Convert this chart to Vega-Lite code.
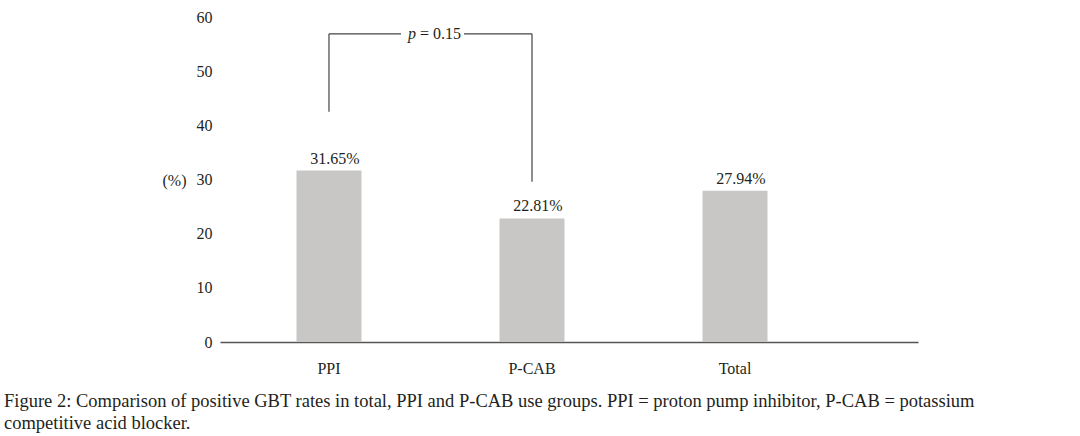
{
  "$schema": "https://vega.github.io/schema/vega-lite/v6.json",
  "autosize": {"type": "none"},
  "width": 698,
  "height": 325,
  "padding": {"left": 220, "top": 17, "right": 162, "bottom": 94},
  "background": "white",
  "config": {
    "view": {"stroke": null},
    "font": "Liberation Serif",
    "axis": {"labelFont": "Liberation Serif", "titleFont": "Liberation Serif", "labelColor": "#231f20", "titleColor": "#231f20", "grid": false, "ticks": false}
  },
  "title": {
    "text": ["Figure 2: Comparison of positive GBT rates in total, PPI and P-CAB use groups. PPI = proton pump inhibitor, P-CAB = potassium", "competitive acid blocker."],
    "orient": "bottom",
    "anchor": "start",
    "frame": "group",
    "dx": -216,
    "offset": 16,
    "font": "Liberation Serif",
    "fontSize": 18.5,
    "fontWeight": "normal",
    "color": "#231f20",
    "lineHeight": 22
  },
  "datasets": {
    "rates": [
      {"group": "PPI", "rate": 31.65, "label": "31.65%"},
      {"group": "P-CAB", "rate": 22.81, "label": "22.81%"},
      {"group": "Total", "rate": 27.94, "label": "27.94%"}
    ],
    "verticals": [
      {"group": "PPI", "y1": 42.5, "y2": 56.9},
      {"group": "P-CAB", "y1": 29.6, "y2": 56.9}
    ],
    "horizontal": [
      {"from": "PPI", "to": "P-CAB", "y": 56.9}
    ]
  },
  "layer": [
    {
      "data": {"name": "rates"},
      "mark": {"type": "bar", "color": "#c8c7c6"},
      "encoding": {
        "x": {
          "field": "group", "type": "nominal", "sort": null,
          "scale": {"paddingInner": 0.68, "paddingOuter": 0.559, "align": 0.337},
          "axis": {"title": null, "labelAngle": 0, "labelFontSize": 16, "labelPadding": 18, "domainColor": "#555555", "domainWidth": 1.3}
        },
        "y": {
          "field": "rate", "type": "quantitative",
          "scale": {"domain": [0, 60], "nice": false},
          "axis": {"values": [0, 10, 20, 30, 40, 50, 60], "domain": false, "labelFontSize": 16, "labelPadding": 8, "title": "(%)", "titleAngle": 0, "titleFontSize": 16, "titleFontWeight": "normal", "titleX": -58, "titleY": 163, "titleAlign": "left", "titleBaseline": "middle"}
        }
      }
    },
    {
      "data": {"name": "rates"},
      "mark": {"type": "text", "fontSize": 16, "dx": 6, "dy": -7, "baseline": "alphabetic", "color": "#231f20"},
      "encoding": {
        "x": {"field": "group", "type": "nominal", "sort": null},
        "y": {"field": "rate", "type": "quantitative"},
        "text": {"field": "label"}
      }
    },
    {
      "data": {"name": "verticals"},
      "mark": {"type": "rule", "color": "#444444", "strokeWidth": 1.2},
      "encoding": {
        "x": {"field": "group", "type": "nominal", "sort": null},
        "y": {"field": "y1", "type": "quantitative"},
        "y2": {"field": "y2"}
      }
    },
    {
      "data": {"name": "horizontal"},
      "mark": {"type": "rule", "color": "#444444", "strokeWidth": 1.2, "x2Offset": -131},
      "encoding": {
        "x": {"field": "from", "type": "nominal", "sort": null},
        "x2": {"field": "to"},
        "y": {"field": "y", "type": "quantitative"}
      }
    },
    {
      "data": {"name": "horizontal"},
      "mark": {"type": "rule", "color": "#444444", "strokeWidth": 1.2, "xOffset": 135},
      "encoding": {
        "x": {"field": "from", "type": "nominal", "sort": null},
        "x2": {"field": "to"},
        "y": {"field": "y", "type": "quantitative"}
      }
    },
    {
      "data": {"name": "horizontal"},
      "mark": {"type": "text", "text": "p", "fontStyle": "italic", "fontSize": 16, "align": "left", "baseline": "middle", "dx": 79, "dy": 0, "color": "#231f20"},
      "encoding": {
        "x": {"field": "from", "type": "nominal", "sort": null},
        "y": {"field": "y", "type": "quantitative"}
      }
    },
    {
      "data": {"name": "horizontal"},
      "mark": {"type": "text", "text": "= 0.15", "fontSize": 16, "align": "left", "baseline": "middle", "dx": 91, "dy": 0, "color": "#231f20"},
      "encoding": {
        "x": {"field": "from", "type": "nominal", "sort": null},
        "y": {"field": "y", "type": "quantitative"}
      }
    }
  ]
}
